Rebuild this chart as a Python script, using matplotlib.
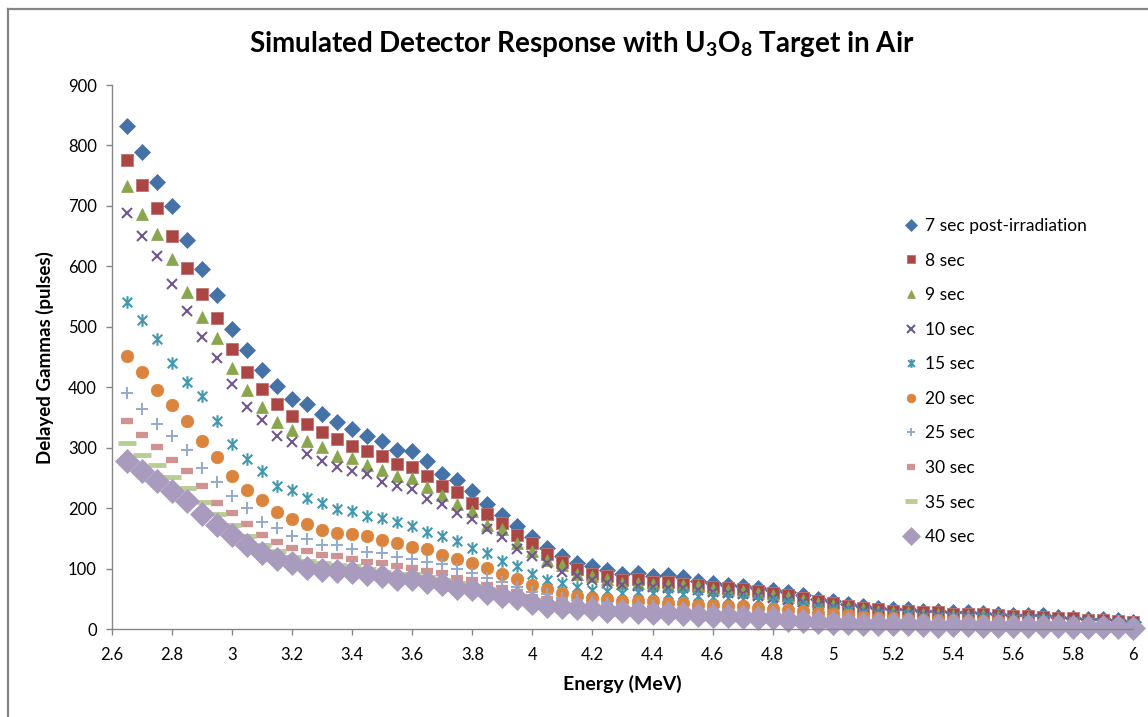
import matplotlib
matplotlib.use("Agg")
import matplotlib.pyplot as plt
from matplotlib.path import Path
from matplotlib.lines import Line2D

plt.rcParams['font.family'] = ['Lato', 'DejaVu Sans']
plt.rcParams['mathtext.fontset'] = 'custom'
plt.rcParams['mathtext.rm'] = 'Lato:bold'
plt.rcParams['mathtext.it'] = 'Lato:bold'
plt.rcParams['mathtext.bf'] = 'Lato:bold'

energy = [2.65, 2.70, 2.75, 2.80, 2.85, 2.90, 2.95, 3.00, 3.05, 3.10, 3.15, 3.20,
          3.25, 3.30, 3.35, 3.40, 3.45, 3.50, 3.55, 3.60, 3.65, 3.70, 3.75, 3.80,
          3.85, 3.90, 3.95, 4.00, 4.05, 4.10, 4.15, 4.20, 4.25, 4.30, 4.35, 4.40,
          4.45, 4.50, 4.55, 4.60, 4.65, 4.70, 4.75, 4.80, 4.85, 4.90, 4.95, 5.00,
          5.05, 5.10, 5.15, 5.20, 5.25, 5.30, 5.35, 5.40, 5.45, 5.50, 5.55, 5.60,
          5.65, 5.70, 5.75, 5.80, 5.85, 5.90, 5.95, 6.00]

sec7 = [832, 790, 740, 700, 644, 595, 553, 497, 461, 429, 403, 381,
        373, 356, 342, 331, 320, 312, 297, 294, 279,
        256, 247, 228, 207, 189, 171, 152, 135, 122, 110, 105, 98, 91, 93, 88, 90, 86, 80,
        77, 74, 71, 68, 65, 61, 56, 50, 46, 42, 38, 35, 33, 33, 30, 30, 28, 28, 27, 26,
        24, 24, 23, 20, 19, 17, 17, 15, 12]
sec8 = [776, 734, 697, 651, 597, 555, 514, 463, 426, 397,
        373, 352, 340, 327, 314, 303, 294, 287, 274, 269, 254,
        237, 227, 209, 191, 175, 156, 142, 124, 112, 99, 92, 88, 81, 83, 79, 79, 75, 73,
        70, 68, 66, 63, 60, 56, 51, 46, 43, 39, 36, 33, 30, 30, 28, 28, 26, 26, 25, 24,
        22, 22, 21, 19, 18, 16, 16, 14, 12]
sec9 = [733, 687, 653, 612, 558, 516, 482, 432,
        396, 367, 342, 329, 312, 301, 286, 283, 271, 264, 253, 250, 236,
        222, 208, 195, 172, 166, 143, 130, 115, 106, 91, 88, 83, 76, 77, 75, 74, 74, 72,
        67, 65, 63, 60, 57, 53, 48, 44, 40, 37, 34, 31, 28, 28, 26, 26, 24, 24, 23, 22,
        21, 20, 19, 17, 16, 15, 14, 12, 11]
sec10 = [689, 651, 617, 571, 527, 484, 449, 406,
         368, 346, 319, 309, 290, 279, 268, 262, 256, 244, 237, 232, 216,
         208, 193, 182, 166, 152, 132, 121, 110, 95, 88, 82, 77, 73, 72, 70, 69, 69, 65,
         62, 60, 58, 55, 52, 49, 45, 41, 37, 34, 31, 28, 26, 26, 24, 24, 22, 22, 21, 20,
         19, 18, 17, 15, 14, 13, 12, 11, 10]
sec15 = [541, 512, 480, 441, 409, 386, 344, 307,
         282, 261, 237, 230, 217, 209, 199, 195, 188, 184, 177, 171, 161,
         154, 146, 134, 126, 113, 104, 91, 82, 76, 70, 65, 63, 60, 62, 60, 59, 58, 55,
         53, 52, 50, 48, 46, 43, 39, 36, 33, 30, 27, 25, 23, 23, 21, 21, 20, 19, 18, 18,
         17, 16, 15, 14, 13, 12, 11, 10, 9]
sec20 = [452, 426, 395, 371, 344, 311, 285, 253,
         230, 213, 194, 183, 174, 165, 160, 157, 155, 147, 142, 136, 132,
         123, 117, 109, 101, 92, 83, 73, 66, 60, 55, 52, 50, 47, 47, 46, 44, 44, 41,
         40, 39, 38, 36, 34, 32, 30, 27, 25, 23, 21, 19, 18, 17, 16, 16, 15, 14, 14, 13,
         12, 12, 11, 10, 10, 9, 8, 8, 7]
sec25 = [391, 365, 340, 319, 297, 267, 243, 220,
         200, 178, 168, 154, 149, 140, 140, 133, 128, 126, 120, 116, 111,
         108, 99, 93, 84, 78, 70, 62, 58, 52, 48, 45, 43, 41, 40, 38, 37, 36, 34,
         33, 32, 31, 29, 28, 26, 24, 22, 20, 18, 17, 15, 14, 13, 13, 12, 12, 11, 11, 10,
         10, 9, 9, 8, 8, 7, 7, 6, 6]
sec30 = [344, 321, 301, 280, 262, 237, 209, 193,
         174, 156, 145, 134, 129, 123, 121, 116, 111, 110, 104, 102, 96,
         93, 85, 81, 73, 68, 62, 54, 50, 45, 41, 39, 37, 35, 34, 33, 32, 31, 30,
         29, 28, 27, 26, 25, 23, 21, 19, 18, 16, 15, 14, 13, 12, 12, 11, 11, 10, 10, 9,
         9, 8, 8, 7, 7, 6, 6, 5, 5]
sec35 = [308, 288, 271, 252, 234, 211, 191, 173,
         154, 140, 130, 120, 113, 109, 106, 104, 99, 95, 92, 91, 87,
         82, 77, 72, 66, 60, 55, 49, 44, 41, 39, 36, 34, 33, 31, 30, 29, 28, 26,
         25, 24, 23, 21, 20, 18, 16, 14, 13, 12, 11, 10, 9, 9, 8, 8, 8, 7, 7, 7,
         6, 6, 6, 5, 5, 4, 4, 3, 3]
sec40 = [278, 261, 245, 229, 212, 191, 173, 156,
         140, 126, 116, 109, 102, 98, 97, 94, 91, 88, 83, 83, 78,
         75, 69, 67, 60, 55, 51, 44, 39, 37, 36, 33, 31, 30, 29, 27, 27, 26, 24,
         22, 22, 21, 19, 18, 16, 14, 12, 11, 10, 9, 8, 8, 8, 7, 6, 7, 7, 6, 6,
         6, 6, 5, 5, 3, 3, 3, 3, 2]

labels = ['7 sec post-irradiation', '8 sec', '9 sec', '10 sec', '15 sec',
          '20 sec', '25 sec', '30 sec', '35 sec', '40 sec']
series = [sec7, sec8, sec9, sec10, sec15, sec20, sec25, sec30, sec35, sec40]

# excel style "star" marker: an x with a vertical bar
star = Path([(-1, -1), (1, 1), (-1, 1), (1, -1), (0, -1.3), (0, 1.3)],
            [Path.MOVETO, Path.LINETO, Path.MOVETO, Path.LINETO, Path.MOVETO, Path.LINETO])

styles = [
    dict(marker='D', color='#4572A7', ms=8.5, mew=0.5, mec='#4572A7'),
    dict(marker='s', color='#AA4643', ms=8.3, mew=0.6, mec='#C07371'),
    dict(marker='^', color='#89A54E', ms=9, mew=0.5, mec='#89A54E'),
    dict(marker='x', color='#71588F', ms=7.5, mew=1.5),
    dict(marker=star, color='#4198AF', ms=9, mew=1.5),
    dict(marker='o', color='#DB843D', ms=9, mew=0.5, mec='#DB843D'),
    dict(marker='+', color='#93A9CF', ms=9, mew=1.4),
    dict(marker='_', color='#D19392', ms=8.5, mew=4.5),
    dict(marker='_', color='#B9CD96', ms=13, mew=3.5),
    dict(marker='D', color='#A99BBD', ms=12.5, mew=0.5, mec='#A99BBD'),
]

fig = plt.figure(figsize=(11.48, 7.17), dpi=100)
ax = fig.add_axes([112 / 1148, 1 - 629.3 / 717, (1133 - 112) / 1148, (629.3 - 85) / 717])

for vals, lab, st in zip(series, labels, styles):
    ax.plot(energy, vals, linestyle='none', label=lab, clip_on=False, **st)

ax.set_xlim(2.6, 6.0)
ax.set_ylim(0, 900)
ax.set_xticks([2.6, 2.8, 3.0, 3.2, 3.4, 3.6, 3.8, 4.0, 4.2, 4.4, 4.6, 4.8,
               5.0, 5.2, 5.4, 5.6, 5.8, 6.0])
ax.set_xticklabels(['2.6', '2.8', '3', '3.2', '3.4', '3.6', '3.8', '4', '4.2', '4.4',
                    '4.6', '4.8', '5', '5.2', '5.4', '5.6', '5.8', '6'])
ax.set_yticks(range(0, 901, 100))

for s in ['top', 'right']:
    ax.spines[s].set_visible(False)
for s in ['left', 'bottom']:
    ax.spines[s].set_color('#868686')
    ax.spines[s].set_linewidth(1.0)
ax.tick_params(axis='both', direction='out', length=4, width=1, color='#868686',
               labelsize=12)
ax.tick_params(axis='y', pad=7)
ax.tick_params(axis='x', pad=9)

ax.set_xlabel('Energy (MeV)', fontsize=14, fontweight='bold', labelpad=8)
ax.set_ylabel('Delayed Gammas (pulses)', fontsize=13.5, fontweight='bold', labelpad=10)
fig.text(582 / 1148, 1 - 44 / 717, r'Simulated Detector Response with U$_3$O$_8$ Target in Air',
         ha='center', va='center', fontsize=20, fontweight='bold')

leg = ax.legend(loc='upper left', bbox_to_anchor=(897 / 1148, 1 - 211 / 717),
                bbox_transform=fig.transFigure, frameon=False, fontsize=12.5,
                labelspacing=1.07, handlelength=0.8, handletextpad=0.4,
                borderaxespad=0, markerscale=0.7)

# chart border (top and left edges visible)
fig.add_artist(Line2D([7.5 / 1148, 7.5 / 1148], [0, 1 - 8.5 / 717],
                      transform=fig.transFigure, color='#868686', lw=1.6))
fig.add_artist(Line2D([7.5 / 1148, 1], [1 - 8.5 / 717, 1 - 8.5 / 717],
                      transform=fig.transFigure, color='#868686', lw=1.6))

fig.savefig('out.png', dpi=100)
